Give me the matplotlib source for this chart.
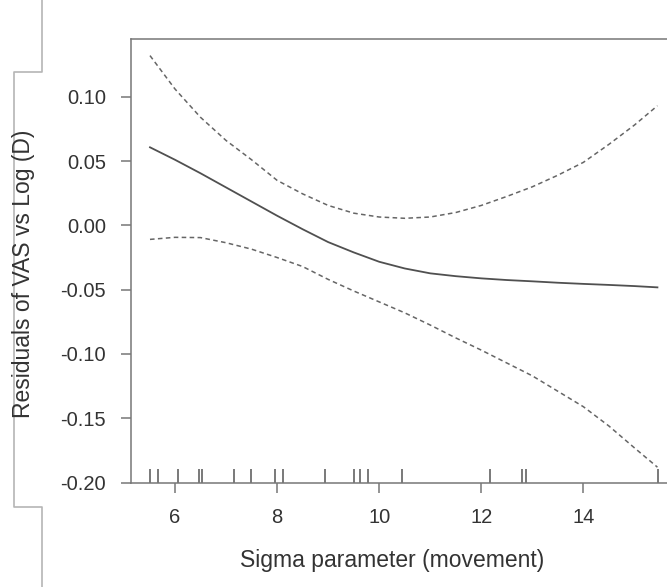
import matplotlib.pyplot as plt
from matplotlib.lines import Line2D

plt.rcParams['font.family'] = ['Liberation Sans', 'DejaVu Sans']

# smooth term
sigma = [5.51, 6.0, 6.5, 7.0, 7.5, 8.0, 8.5, 9.0, 9.5, 10.0, 10.5,
         11.0, 11.5, 12.0, 12.5, 13.0, 13.5, 14.0, 14.5, 15.0, 15.45]
fit = [0.0607, 0.051, 0.0405, 0.0295, 0.0185, 0.0075, -0.003, -0.013, -0.021, -0.0283, -0.0335,
       -0.0373, -0.0395, -0.0412, -0.0425, -0.0435, -0.0446, -0.0455, -0.0463, -0.0472, -0.0482]
upper = [0.132, 0.106, 0.084, 0.066, 0.051, 0.035, 0.0245, 0.0155, 0.0095, 0.0065, 0.0055,
         0.0065, 0.0100, 0.0155, 0.0225, 0.030, 0.039, 0.049, 0.063, 0.078, 0.093]
lower = [-0.0109, -0.0093, -0.0095, -0.0135, -0.0185, -0.025, -0.032, -0.042, -0.051, -0.0595, -0.068,
         -0.0775, -0.0875, -0.097, -0.107, -0.117, -0.129, -0.141, -0.156, -0.173, -0.188]

# observed sigma values (rug)
rug = [5.51, 5.66, 6.065, 6.47, 6.53, 7.16, 7.48, 7.96, 8.12, 8.93,
       9.51, 9.62, 9.79, 10.44, 12.18, 12.79, 12.87, 15.455]

xticks = [6, 8, 10, 12, 14]
yticks = [0.10, 0.05, 0.00, -0.05, -0.10, -0.15, -0.20]
ytick_labels = ['0.10', '0.05', '0.00', '-0.05', '-0.10', '-0.15', '-0.20']

W, H = 667, 587
fig = plt.figure(figsize=(W / 100, H / 100), dpi=100)
ax = fig.add_axes([131 / W, 104 / H, 547 / W, 444 / H])

axcol = '#777777'
txtcol = '#333333'

ax.plot(sigma, fit, '-', color='#505050', lw=1.3)
ax.plot(sigma, upper, '--', color='#666666', lw=1.1, dashes=(3, 2.2))
ax.plot(sigma, lower, '--', color='#666666', lw=1.1, dashes=(3, 2.2))
ax.vlines(rug, 0, 14 / 444, transform=ax.get_xaxis_transform(), color='#555555', lw=1.1)

ax.set_xlim(5.138, 15.853)
ax.set_ylim(-0.2003, 0.1449)
ax.set_xticks(xticks)
ax.set_yticks(yticks)
ax.set_yticklabels(ytick_labels)
ax.tick_params(direction='out', length=7.5, width=1.1, pad=10.5,
               color=axcol, labelcolor=txtcol, labelsize=14.5)
for s in ax.spines.values():
    s.set_color(axcol)
    s.set_linewidth(1.1)

fig.text(392 / W, 1 - 567 / H, 'Sigma parameter (movement)', ha='center', va='baseline',
         fontsize=16.5, color=txtcol)
fig.text(24 / W, 1 - 274 / H, 'Residuals of VAS vs Log (D)', rotation=90,
         ha='center', va='center', fontsize=16.5, color=txtcol)

# grey bracket at the left edge of the screenshot
bx = [42 / W, 42 / W, 14 / W, 14 / W, 42 / W, 42 / W]
by = [1, 1 - 72 / H, 1 - 72 / H, 1 - 507 / H, 1 - 507 / H, 0]
fig.add_artist(Line2D(bx, by, transform=fig.transFigure, color='#b5b5b5', lw=1.2))

fig.savefig('out.png', dpi=100)
